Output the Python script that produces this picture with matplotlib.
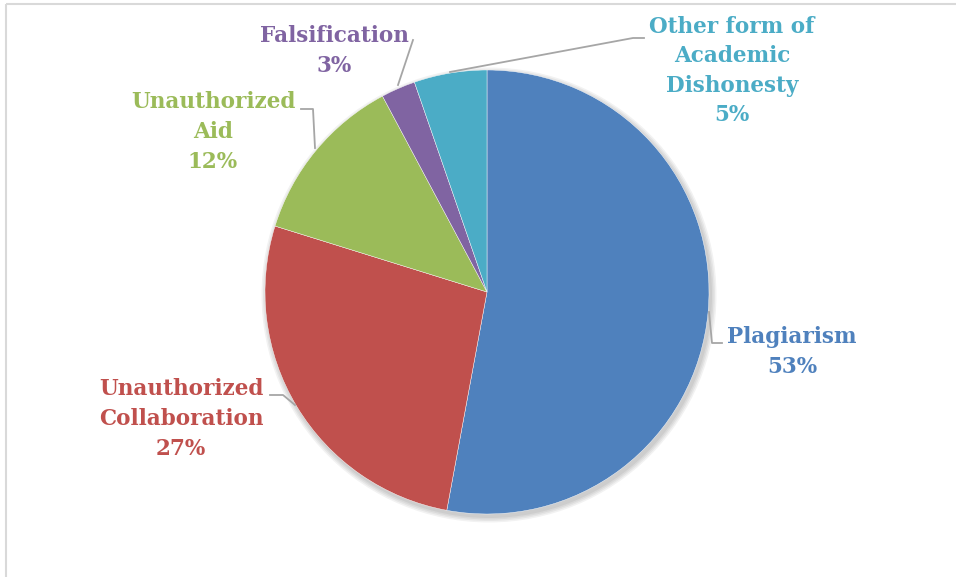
import matplotlib
matplotlib.use('Agg')
import matplotlib.pyplot as plt
from matplotlib.patches import Rectangle, Circle

# data
categories = ['Plagiarism', 'Unauthorized\nCollaboration', 'Unauthorized\nAid',
              'Falsification', 'Other form of\nAcademic\nDishonesty']
shares     = [52.9, 26.9, 12.4, 2.5, 5.3]
pct_labels = ['53%', '27%', '12%', '3%', '5%']
colors     = ['#4F81BD', '#C0504D', '#9BBB59', '#8064A2', '#4BACC6']

# label centres (pixel coords) and leader polylines
label_pos = [(792, 352), (181, 419), (213, 132), (334, 51), (732, 71)]
leaders = [
    [(709, 312), (712, 343), (722, 343)],
    [(295, 405), (283, 395), (270, 395)],
    [(315, 148), (313, 109), (301, 109)],
    [(398, 85), (413, 40)],
    [(450, 72), (633, 38), (644, 38)],
]

W, H = 956, 577
fig = plt.figure(figsize=(W / 100, H / 100), dpi=100)
ax = fig.add_axes([0, 0, 1, 1])

# chart frame
ax.add_patch(Rectangle((6, 4), 1000, 1000, fill=False, edgecolor='#D9D9D9', lw=1.5))

cx, cy, r = 487, 292, 222
# soft shadow
for k in range(4):
    ax.add_patch(Circle((cx + 2, cy + 3), r + 1 + k * 1.5, color='black', alpha=0.05, lw=0, zorder=1))

# y axis is inverted, so counterclock=True visually becomes clockwise
ax.pie(shares, colors=colors, startangle=-90, counterclock=True, center=(cx, cy),
       radius=r, frame=True, wedgeprops=dict(linewidth=0.3, edgecolor='white', zorder=2))
ax.set_xlim(0, W)
ax.set_ylim(H, 0)
ax.set_aspect('equal')
ax.axis('off')

for cat, pct, col, (x, y) in zip(categories, pct_labels, colors, label_pos):
    ax.text(x, y, cat + '\n' + pct, color=col, ha='center', va='center',
            fontsize=15.5, fontweight='bold', family='DejaVu Serif',
            linespacing=1.45, zorder=5)

for pts in leaders:
    xs, ys = zip(*pts)
    ax.plot(xs, ys, color='#A6A6A6', lw=1.3, zorder=4)

fig.savefig('out.png', dpi=100)
